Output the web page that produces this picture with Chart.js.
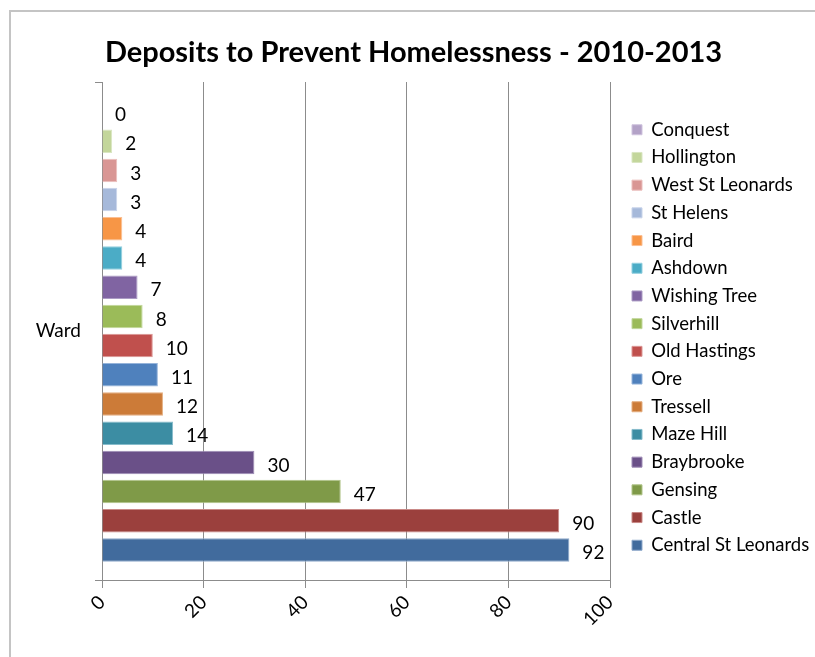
<!DOCTYPE html>
<html>
<head>
<meta charset="utf-8">
<script src="https://cdn.jsdelivr.net/npm/chart.js@4/dist/chart.umd.min.js"></script>
<style>
  html, body { margin: 0; padding: 0; background: #fff; overflow: hidden; }
  #wrap { position: relative; width: 815px; height: 657px; }
  #frame { position: absolute; left: 9px; top: 10px; width: 900px; height: 800px;
           border-left: 2px solid #c4c4c4; border-top: 2px solid #c4c4c4; }
  canvas { position: absolute; left: 0; top: 0; }
</style>
</head>
<body>
<div id="wrap">
  <div id="frame"></div>
  <canvas id="wardChart" width="815" height="657"></canvas>
</div>
<script>
// 数据（从上到下的顺序，与图例一致）
const category = ['Ward'];
const wards = ['Conquest', 'Hollington', 'West St Leonards', 'St Helens', 'Baird', 'Ashdown',
  'Wishing Tree', 'Silverhill', 'Old Hastings', 'Ore', 'Tressell', 'Maze Hill',
  'Braybrooke', 'Gensing', 'Castle', 'Central St Leonards'];
const deposits = [0, 2, 3, 3, 4, 4, 7, 8, 10, 11, 12, 14, 30, 47, 90, 92];
const xTicks = [0, 20, 40, 60, 80, 100];

const fills = ['#b3a2c7', '#c3d69b', '#d99694', '#a6b9da', '#f79646', '#4bacc6',
  '#8064a2', '#9bbb59', '#c0504d', '#4f81bd', '#cc7b38', '#3c8da3',
  '#6a5088', '#7f9a48', '#9b403d', '#416b9d'];
const edges = ['#cfc3de', '#d9e6c2', '#ebbebd', '#c8d4ea', '#fbbf93', '#93cfdf',
  '#ab9bc4', '#c2d79c', '#dc9896', '#96b4da', '#e4ad7e', '#86bccb',
  '#9d8bb5', '#b0c489', '#c98987', '#8ea9cb'];

const FONT = 'Lato, "Open Sans", sans-serif';
const LEGEND_PAD = 9.2;

// 数值标签
const valueLabels = {
    id: 'valueLabels',
    afterDatasetsDraw(chart) {
        const c = chart.ctx;
        c.save();
        c.font = '19px ' + FONT;
        c.fillStyle = '#000';
        c.textBaseline = 'middle';
        c.textAlign = 'left';
        chart.data.datasets.forEach((ds, i) => {
            const bar = chart.getDatasetMeta(i).data[0];
            c.fillText(String(ds.data[0]), bar.x + 13, bar.y + 3);
        });
        c.restore();
    }
};

// 图例区域宽一点，和绘图区之间留空
const legendSpace = {
    id: 'legendSpace',
    beforeInit(chart) {
        const lg = chart.legend;
        const fit = lg.fit;
        lg.fit = function () {
            fit.call(this);
            if (!this.isHorizontal()) this.width = 205;
        };
    },
    afterLayout(chart) {
        const lg = chart.legend;
        lg.left = 632 - LEGEND_PAD;
        lg.top += 9;
        lg.bottom += 9;
    }
};

new Chart(document.getElementById('wardChart').getContext('2d'), {
    type: 'bar',
    data: {
        labels: category,
        datasets: wards.map((w, i) => ({
            label: w,
            data: [deposits[i]],
            backgroundColor: fills[i],
            borderColor: edges[i],
            borderWidth: 1,
            categoryPercentage: 0.938,
            barPercentage: 0.805
        }))
    },
    options: {
        indexAxis: 'y',
        responsive: false,
        animation: false,
        layout: { padding: { left: 12, right: 0, top: 0, bottom: 0 } },
        scales: {
            x: {
                min: 0,
                max: 100,
                afterBuildTicks(scale) { scale.ticks = xTicks.map(v => ({ value: v })); },
                afterFit(scale) { scale.height = 77; },
                ticks: {
                    minRotation: 45,
                    maxRotation: 45,
                    color: '#000',
                    font: { size: 19, family: FONT },
                    padding: 3
                },
                grid: { color: '#8c8c8c', lineWidth: 1, tickLength: 8 },
                border: { color: '#8c8c8c' }
            },
            y: {
                type: 'category',
                offset: true,
                afterFit(scale) { scale.width = 90; },
                ticks: { color: '#000', font: { size: 19, family: FONT }, padding: 14 },
                grid: { offset: true, drawOnChartArea: false, color: '#8c8c8c', tickLength: 7 },
                border: { color: '#8c8c8c' }
            }
        },
        plugins: {
            title: {
                display: true,
                text: 'Deposits to Prevent Homelessness - 2010-2013',
                color: '#000',
                font: { size: 29, weight: 'bold', family: FONT },
                padding: { top: 35.6, bottom: 11.6 }
            },
            legend: {
                display: true,
                position: 'right',
                labels: {
                    color: '#000',
                    font: { size: 18.5, family: FONT },
                    boxWidth: 10,
                    boxHeight: 10,
                    padding: LEGEND_PAD
                }
            },
            tooltip: { enabled: false }
        }
    },
    plugins: [valueLabels, legendSpace]
});
</script>
</body>
</html>
